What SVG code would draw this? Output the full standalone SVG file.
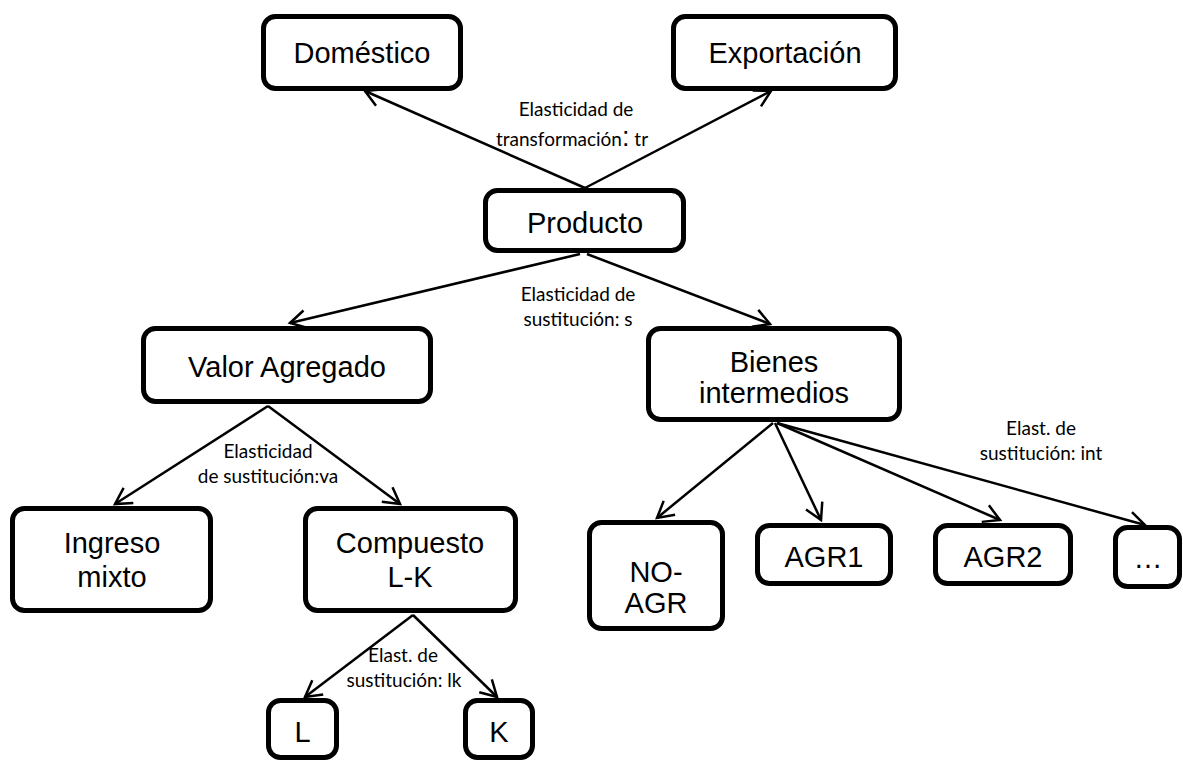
<svg xmlns="http://www.w3.org/2000/svg" width="1183" height="764" viewBox="0 0 1183 764">
<style>
.box{fill:#fff;stroke:#000;stroke-width:5}
.nt{font-family:"Liberation Sans",Arial,sans-serif;font-size:29px;fill:#000;text-anchor:middle}
.lb{font-family:Lato,"Liberation Sans",sans-serif;font-size:19px;fill:#000;text-anchor:middle}
.cn{stroke:#000;stroke-width:2.5;fill:none;marker-end:url(#ah)}
</style>
<defs>
<marker id="ah" markerUnits="userSpaceOnUse" markerWidth="30" markerHeight="30" refX="0" refY="0" viewBox="-20 -15 30 30" orient="auto" overflow="visible">
<path d="M-16,-9 L0,0 L-16,9" fill="none" stroke="#000" stroke-width="2.5"/>
</marker>
</defs>
<rect width="1183" height="764" fill="#fff"/>
<g id="connectors">
<line class="cn" x1="585" y1="188" x2="365" y2="91"/>
<line class="cn" x1="585" y1="188" x2="771" y2="91"/>
<line class="cn" x1="580" y1="254" x2="290" y2="323"/>
<line class="cn" x1="587" y1="254" x2="770" y2="324"/>
<line class="cn" x1="268" y1="406" x2="115" y2="504"/>
<line class="cn" x1="268" y1="406" x2="400" y2="504"/>
<line class="cn" x1="413" y1="615" x2="305" y2="697"/>
<line class="cn" x1="413" y1="615" x2="497" y2="697"/>
<line class="cn" x1="773" y1="423" x2="657" y2="518"/>
<line class="cn" x1="775" y1="423" x2="821" y2="520"/>
<line class="cn" x1="777" y1="423" x2="1000" y2="520"/>
<line class="cn" x1="777" y1="423" x2="1145" y2="525"/>
</g>
<g id="labels">
<text class="lb" x="576" y="116">Elasticidad de</text>
<text class="lb" x="496" y="146" style="text-anchor:start">transformación<tspan font-size="27px" font-family="'Liberation Sans',sans-serif">:</tspan> tr</text>
<text class="lb" x="578" y="301">Elasticidad de</text>
<text class="lb" x="578" y="326">sustitución: s</text>
<text class="lb" x="268" y="458">Elasticidad</text>
<text class="lb" x="268" y="483">de sustitución:va</text>
<text class="lb" x="403" y="662">Elast. de</text>
<text class="lb" x="404" y="687">sustitución: lk</text>
<text class="lb" x="1041" y="435">Elast. de</text>
<text class="lb" x="1041" y="460">sustitución: int</text>
</g>
<g id="domestico"><rect class="box" x="263.5" y="16.5" width="197" height="72" rx="12"/><text class="nt" x="362" y="63">Doméstico</text></g>
<g id="exportacion"><rect class="box" x="673.5" y="16.5" width="222" height="72" rx="12"/><text class="nt" x="785" y="63">Exportación</text></g>
<g id="producto"><rect class="box" x="485.5" y="190.5" width="198" height="60" rx="12"/><text class="nt" x="585" y="233">Producto</text></g>
<g id="valor-agregado"><rect class="box" x="143.5" y="328.5" width="287" height="73" rx="12"/><text class="nt" x="287" y="377">Valor Agregado</text></g>
<g id="bienes-intermedios"><rect class="box" x="648.5" y="328.5" width="251" height="91" rx="12"/><text class="nt" x="774" y="372">Bienes</text><text class="nt" x="774" y="403">intermedios</text></g>
<g id="ingreso-mixto"><rect class="box" x="12.5" y="508.5" width="198" height="102" rx="12"/><text class="nt" x="112" y="553">Ingreso</text><text class="nt" x="112" y="587">mixto</text></g>
<g id="compuesto-lk"><rect class="box" x="305.5" y="508.5" width="210" height="102" rx="12"/><text class="nt" x="410" y="553">Compuesto</text><text class="nt" x="410" y="587">L-K</text></g>
<g id="L"><rect class="box" x="268.5" y="700.5" width="68" height="57" rx="12"/><text class="nt" x="302.5" y="742">L</text></g>
<g id="K"><rect class="box" x="465.5" y="700.5" width="67" height="57" rx="12"/><text class="nt" x="499" y="742">K</text></g>
<g id="no-agr"><rect class="box" x="589.5" y="522.5" width="133" height="106" rx="12"/><text class="nt" x="656" y="582">NO-</text><text class="nt" x="656" y="613">AGR</text></g>
<g id="agr1"><rect class="box" x="757.5" y="525.5" width="133" height="58" rx="12"/><text class="nt" x="824" y="567">AGR1</text></g>
<g id="agr2"><rect class="box" x="935.5" y="525.5" width="135" height="58" rx="12"/><text class="nt" x="1003" y="567">AGR2</text></g>
<g id="ellipsis"><rect class="box" x="1115.5" y="527.5" width="64" height="59" rx="12"/><text class="nt" x="1148" y="568">…</text></g>
</svg>
